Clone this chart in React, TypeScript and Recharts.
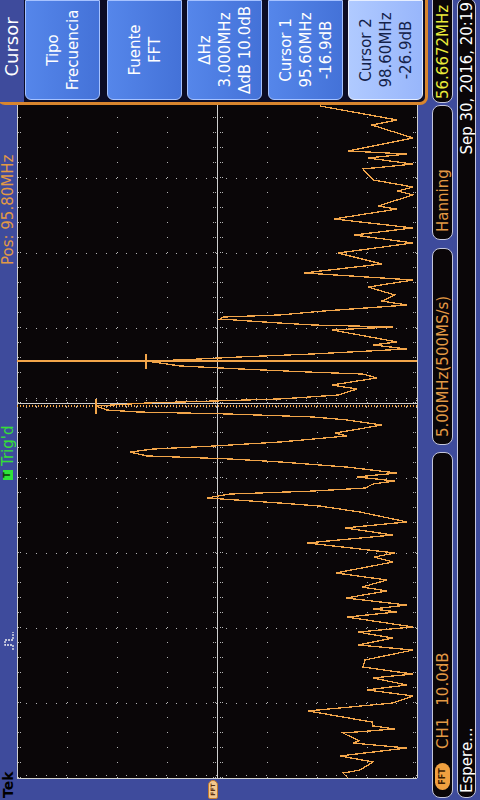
import { Line, LineChart, ReferenceLine, XAxis, YAxis } from "recharts";

// ---------------------------------------------------------------------------
// Data (FFT trace)
// ---------------------------------------------------------------------------

const freqMHz = [
  70.8, 71.13, 71.33, 71.87, 72.27, 72.8, 73.13, 73.27, 73.8, 74.07, 74.27,
  74.53, 75.27, 75.8, 76.27, 76.67, 77.0, 77.47, 77.73, 78.2, 78.67, 79.33,
  79.67, 80.13, 80.53, 80.87, 81.53, 81.87, 82.07, 82.33, 82.8, 83.27, 83.53,
  84.0, 84.47, 85.2, 85.53, 85.8, 86.47, 87.0, 87.47, 87.87, 88.53, 88.93,
  89.13, 89.47, 89.73, 89.93, 90.13, 90.4, 90.6, 90.87, 91.13, 91.53, 91.87,
  92.07, 92.27, 92.53, 92.73, 92.93, 93.2, 93.6, 93.8, 94.33, 94.67, 94.87,
  95.07, 95.2, 95.33, 95.6, 95.67, 95.8, 95.93, 96.07, 96.33, 96.73, 97.0,
  97.47, 97.73, 97.87, 98.07, 98.27, 98.6, 98.67, 98.87, 99.07, 99.4, 99.67,
  99.87, 100.67, 100.87, 101.0, 101.13, 101.4, 101.53, 101.67, 101.93, 102.33,
  102.6, 103.0, 103.53, 104.0, 104.47, 105.07, 105.8, 106.47, 107.0, 107.47,
  108.07, 108.73, 108.93, 109.67, 109.93, 110.2, 110.67, 111.4, 111.73,
  112.13, 112.4, 112.6, 113.47, 114.33, 114.67, 115.6,
];

const levelDb = [
  -67.3, -66.3, -69.7, -72.3, -65.7, -79.1, -68.3, -69.5, -66.3, -76.7, -72.3,
  -72.1, -59.3, -76.3, -80.3, -71.1, -79.1, -72.3, -80.3, -70.3, -70.7, -80.3,
  -69.3, -76.3, -69.3, -80.3, -67.1, -77.1, -72.3, -79.1, -66.9, -75.1, -70.1,
  -75.1, -64.9, -76.3, -72.5, -76.7, -59.1, -76.3, -66.7, -79.1, -69.7, -61.7,
  -53.7, -39.1, -43.7, -60.3, -70.7, -72.3, -76.7, -69.1, -77.1, -67.1, -53.7,
  -43.7, -27.1, -23.7, -28.3, -40.3, -53.7, -67.1, -64.7, -74.1, -67.1, -60.3,
  -43.1, -25.3, -19.1, -16.9, -20.3, -27.1, -40.3, -53.7, -65.3, -69.1, -64.1,
  -73.1, -70.3, -59.1, -45.7, -33.7, -26.9, -33.7, -45.7, -60.3, -79.1, -72.3,
  -77.1, -64.1, -76.3, -60.3, -53.7, -41.7, -42.3, -53.7, -62.3, -79.1,
  -74.1, -76.7, -71.3, -80.3, -58.5, -74.1, -65.3, -80.3, -68.5, -80.3,
  -64.5, -77.1, -73.3, -80.3, -77.3, -80.3, -72.3, -70.3, -80.3,
  -71.3, -79.1, -67.3, -80.3, -72.1, -77.1, -61.7,
];

const cursorMHz = [95.6, 98.6];
const cursorDb = [-16.9, -26.9];

const menuButtons = [
  ["Tipo", "Frecuencia"],
  ["Fuente", "FFT"],
  ["\u0394Hz", "3.000MHz", "\u0394dB 10.0dB"],
  ["Cursor 1", "95.60MHz", "-16.9dB"],
  ["Cursor 2", "98.60MHz", "-26.9dB"],
];
const selectedButton = 4;

// screen scale
const CENTER_MHZ = 95.8;
const MHZ_PER_DIV = 5;
const TOP_DB = -1.1;
const DB_PER_DIV = 10;

const trace = freqMHz.map((f, i) => ({ f, db: levelDb[i] }));

const fMin = CENTER_MHZ - 5 * MHZ_PER_DIV;
const fMax = CENTER_MHZ + 5 * MHZ_PER_DIV;
const dbMin = TOP_DB - 8 * DB_PER_DIV;
const dbCenter = TOP_DB - 4 * DB_PER_DIV;

const freqGrid = [1, 2, 3, 4, 6, 7, 8, 9].map((i) => fMin + i * MHZ_PER_DIV);
const dbGrid = [1, 2, 3, 5, 6, 7].map((i) => TOP_DB - i * DB_PER_DIV);

// ---------------------------------------------------------------------------
// Colours
// ---------------------------------------------------------------------------

const BLUE = "#3e4b9c";
const SCREEN = "#0a0608";
const TRACE = "#f2a54a";
const ORANGE = "#e39a45";
const GRID = "#b4b4b4";
const FRAME = "#d8852e";

// ---------------------------------------------------------------------------
// Pieces
// ---------------------------------------------------------------------------

function Box({
  left,
  top,
  width,
  height,
  children,
  justify = "flex-start",
}: {
  left: number;
  top: number;
  width: number;
  height: number;
  children?: React.ReactNode;
  justify?: string;
}) {
  return (
    <div
      style={{
        position: "absolute",
        left,
        top,
        width,
        height,
        boxSizing: "border-box",
        background: SCREEN,
        border: "1px solid #c4c6dc",
        borderRadius: 8,
        display: "flex",
        alignItems: "center",
        justifyContent: justify,
        whiteSpace: "nowrap",
        fontSize: 15,
      }}
    >
      {children}
    </div>
  );
}

function TrigIcon() {
  return (
    <svg
      width={20}
      height={12}
      style={{ position: "absolute", left: 149, top: 3 }}
    >
      <polyline
        points="1,10 6,10 6,2 11,2 11,10 19,10"
        fill="none"
        stroke="#f0f0f0"
        strokeWidth={1.3}
        strokeDasharray="2 1"
      />
    </svg>
  );
}

function Scope() {
  const dotV = { stroke: GRID, strokeDasharray: "1 9", strokeWidth: 1 };
  const dotH = { stroke: GRID, strokeDasharray: "1 14", strokeWidth: 1 };
  return (
    <div
      style={{
        position: "absolute",
        left: 21,
        top: 16,
        width: 752,
        height: 402,
        shapeRendering: "crispEdges",
      }}
    >
      <div
        style={{
          position: "absolute",
          left: 1,
          top: 1,
          width: 750,
          height: 400,
          background: SCREEN,
        }}
      />
      <LineChart
        width={752}
        height={402}
        data={trace}
        margin={{ top: 1, right: 1, bottom: 1, left: 1 }}
        style={{ position: "absolute", left: 0, top: 0 }}
      >
        <XAxis
          type="number"
          dataKey="f"
          domain={[fMin, fMax]}
          allowDataOverflow
          hide
        />
        <YAxis
          type="number"
          domain={[dbMin, TOP_DB]}
          allowDataOverflow
          hide
        />
        {freqGrid.map((f) => (
          <ReferenceLine key={`fg${f}`} x={f} {...dotV} />
        ))}
        {dbGrid.map((d) => (
          <ReferenceLine key={`dg${d}`} y={d} {...dotH} />
        ))}
        {[-1, -0.6, 0.4, 0.8].map((o) => (
          <ReferenceLine key={`ct${o}`} y={dbCenter + o} {...dotH} />
        ))}
        {[-0.33, -0.2, 0.2, 0.33].map((o) => (
          <ReferenceLine key={`cf${o}`} x={CENTER_MHZ + o} {...dotV} />
        ))}
        {[TOP_DB - 0.3, TOP_DB - 0.75, dbMin + 0.4, dbMin + 0.8].map((d) => (
          <ReferenceLine key={`bt${d}`} y={d} {...dotH} />
        ))}
        <ReferenceLine x={fMin + 0.2} {...dotV} />
        <ReferenceLine x={CENTER_MHZ} stroke="#cfcfcf" />
        <ReferenceLine y={dbCenter} stroke="#cfcfcf" />
        <ReferenceLine x={fMin} stroke="#cfcfcf" />
        <ReferenceLine y={TOP_DB} stroke="#cfcfcf" />
        <ReferenceLine y={dbMin} stroke="#cfcfcf" />
        <ReferenceLine
          x={cursorMHz[0]}
          stroke={TRACE}
          strokeDasharray="1 2"
          strokeWidth={1.2}
        />
        <ReferenceLine x={cursorMHz[1]} stroke={TRACE} strokeWidth={1.2} />
        {cursorMHz.map((c, i) => (
          <ReferenceLine
            key={`cm${c}`}
            segment={[
              { x: c - 0.5, y: cursorDb[i] },
              { x: c + 0.5, y: cursorDb[i] },
            ]}
            stroke={TRACE}
            strokeWidth={1.2}
          />
        ))}
        <Line
          type="linear"
          dataKey="db"
          stroke={TRACE}
          strokeWidth={1.3}
          dot={false}
          isAnimationActive={false}
        />
      </LineChart>
    </div>
  );
}

function SideMenu() {
  const tops = [25, 107, 187, 268, 348];
  return (
    <>
      <div
        style={{
          position: "absolute",
          left: 695,
          top: -3,
          width: 130,
          height: 431,
          boxSizing: "border-box",
          border: `3px solid ${FRAME}`,
          borderRadius: 8,
          background: "#0c0c24",
        }}
      />
      <div
        style={{
          position: "absolute",
          left: 698,
          top: 0,
          width: 110,
          height: 24,
          background: BLUE,
          color: "#ffffff",
          fontSize: 18,
          lineHeight: "24px",
          textAlign: "center",
        }}
      >
        Cursor
      </div>
      {menuButtons.map((lines, i) => {
        const sel = i === selectedButton;
        return (
          <div
            key={lines[0]}
            style={{
              position: "absolute",
              left: 700,
              top: tops[i],
              width: 100,
              height: 75,
              boxSizing: "border-box",
              borderRadius: "6px 0 0 6px",
              background: sel
                ? "linear-gradient(#b0caff, #98b6fb)"
                : "linear-gradient(#5586ea, #4472d8)",
              border: `1px solid ${sel ? "#e6eeff" : "#a6c2ff"}`,
              color: sel ? "#14224a" : "#ffffff",
              display: "flex",
              flexDirection: "column",
              justifyContent: "center",
              alignItems: "center",
              fontSize: 15,
              lineHeight: "20px",
              whiteSpace: "nowrap",
            }}
          >
            {lines.map((t) => (
              <div key={t}>{t}</div>
            ))}
          </div>
        );
      })}
    </>
  );
}

export default function App() {
  return (
    <div
      style={{
        position: "absolute",
        left: 0,
        top: 0,
        width: 480,
        height: 800,
        overflow: "hidden",
        background: BLUE,
      }}
    >
      <div
        style={{
          position: "absolute",
          left: 0,
          top: 0,
          width: 800,
          height: 480,
          transformOrigin: "0 0",
          transform: "translate(0px, 800px) rotate(-90deg)",
          fontFamily: '"DejaVu Sans", sans-serif',
          background: BLUE,
        }}
      >
        {/* top status strip */}
        <div
          style={{
            position: "absolute",
            left: 2,
            top: 0,
            fontSize: 14,
            lineHeight: "16px",
            fontWeight: "bold",
            color: "#000000",
          }}
        >
          Tek
        </div>
        <TrigIcon />
        <div
          style={{
            position: "absolute",
            left: 320,
            top: 3,
            width: 10,
            height: 10,
            background: "#2fe23a",
            color: "#0a3a0a",
            fontSize: 8,
            lineHeight: "10px",
            textAlign: "center",
            fontWeight: "bold",
          }}
        >
          T
        </div>
        <div
          style={{
            position: "absolute",
            left: 334,
            top: 0,
            fontSize: 15,
            lineHeight: "16px",
            color: "#35e035",
          }}
        >
          Trig'd
        </div>
        <div
          style={{
            position: "absolute",
            left: 535,
            top: 0,
            fontSize: 15,
            lineHeight: "16px",
            color: ORANGE,
            whiteSpace: "nowrap",
          }}
        >
          Pos: 95.80MHz
        </div>

        <Scope />

        {/* reference marker */}
        <div
          style={{
            position: "absolute",
            left: 1,
            top: 208,
            width: 19,
            height: 10,
            boxSizing: "border-box",
            borderRadius: "2px 5px 5px 2px",
            background: "#f3c88d",
            border: "1px solid #c07a30",
            fontSize: 6,
            lineHeight: "8px",
            fontWeight: "bold",
            color: "#5a3010",
            textAlign: "center",
          }}
        >
          FFT
        </div>

        <SideMenu />

        {/* readouts */}
        <Box left={2} top={432} width={346} height={21}>
          <div
            style={{
              marginLeft: 7,
              width: 27,
              height: 15,
              borderRadius: 8,
              background: "#f0a040",
              color: "#3a1a00",
              fontSize: 8,
              lineHeight: "15px",
              textAlign: "center",
              fontWeight: "bold",
            }}
          >
            FFT
          </div>
          <span style={{ color: ORANGE, marginLeft: 14 }}>CH1</span>
          <span style={{ color: ORANGE, marginLeft: 12 }}>10.0dB</span>
        </Box>
        <Box left={355} top={432} width={197} height={21}>
          <span style={{ color: ORANGE, marginLeft: 7 }}>5.00MHz(500MS/s)</span>
        </Box>
        <Box left={560} top={432} width={135} height={21}>
          <span style={{ color: ORANGE, marginLeft: 7 }}>Hanning</span>
        </Box>
        <Box left={697} top={432} width={120} height={21}>
          <span style={{ color: "#eaea3a", marginLeft: 3 }}>56.6672MHz</span>
        </Box>
        <Box
          left={2}
          top={457}
          width={800}
          height={19}
          justify="space-between"
        >
          <span style={{ color: "#ffffff", marginLeft: 4 }}>Espere...</span>
          <span style={{ color: "#ffffff", marginRight: 3 }}>
            Sep 30, 2016, 20:19
          </span>
        </Box>
      </div>
    </div>
  );
}
